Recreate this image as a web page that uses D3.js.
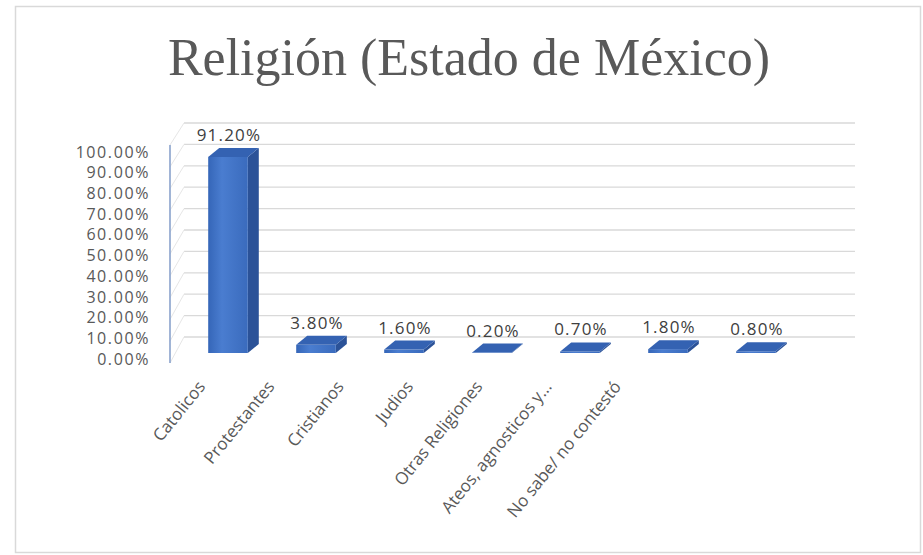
<!DOCTYPE html>
<html>
<head>
<meta charset="utf-8">
<script src="https://cdn.jsdelivr.net/npm/d3@7"></script>
<style>
  html, body { margin: 0; padding: 0; background: #ffffff; }
  svg { display: block; }
</style>
</head>
<body>
<svg id="chart" width="923" height="555"></svg>
<script>
// ---- data ----
const title = "Religión (Estado de México)";
const categories = ["Catolicos", "Protestantes", "Cristianos", "Judios", "Otras Religiones", "Ateos, agnosticos y...", "No sabe/ no contestó"];
const values = [0.912, 0.038, 0.016, 0.002, 0.007, 0.018, 0.008];
const tickValues = [0, 0.1, 0.2, 0.3, 0.4, 0.5, 0.6, 0.7, 0.8, 0.9, 1.0];

const svg = d3.select("#chart");
const font = "'Open Sans', 'Liberation Sans', sans-serif";
const textColor = "#595959";

// outer border
svg.append("rect").attr("x", 15.5).attr("y", 6.5).attr("width", 905).attr("height", 546)
  .attr("fill", "#ffffff").attr("stroke", "#d9d9d9").attr("stroke-width", 1.5);

// title
svg.append("text").attr("x", 469).attr("y", 75).attr("text-anchor", "middle")
  .attr("font-family", "'Liberation Serif', 'DejaVu Serif', serif")
  .attr("font-size", 52).attr("fill", textColor).text(title);

// scales
const yBack = d3.scaleLinear().domain([0, 1]).range([337, 123]);   // back wall
const yWall = d3.scaleLinear().domain([0, 1]).range([363, 145]);   // front edge of side wall
const yLab  = d3.scaleLinear().domain([0, 1]).range([359, 152]);   // tick labels
const yBar  = d3.scaleLinear().domain([0, 1]).range([353, 138]);   // bars (front face)
const x = d3.scaleBand().domain(categories).range([184, 800]).paddingInner(0.55).paddingOuter(0.275);
const xLab = d3.scalePoint().domain(categories).range([206, 622]);
const wallX0 = 170, wallX1 = 184, backX1 = 855;
const dx = 11, dy = -9;

// back wall gridlines
svg.append("g").selectAll("line").data(tickValues).join("line")
  .attr("x1", wallX1).attr("x2", backX1)
  .attr("y1", d => yBack(d)).attr("y2", d => yBack(d))
  .attr("stroke", "#d9d9d9").attr("stroke-width", 1.3);

// side wall gridlines
svg.append("g").selectAll("line").data(tickValues).join("line")
  .attr("x1", wallX0).attr("x2", wallX1)
  .attr("y1", d => yWall(d)).attr("y2", d => yBack(d))
  .attr("stroke", "#e6e6e6").attr("stroke-width", 1);

// side wall front edge (axis line)
svg.append("line").attr("x1", wallX0).attr("x2", wallX0)
  .attr("y1", yWall(1)).attr("y2", yWall(0))
  .attr("stroke", "#8aa2cc").attr("stroke-width", 1.6);

// y axis labels
const yAxis = d3.axisLeft(yLab).tickValues(tickValues).tickFormat(d3.format(".2%")).tickSize(0).tickPadding(0);
const gy = svg.append("g").attr("transform", "translate(150,0)").call(yAxis);
gy.select(".domain").remove();
gy.selectAll("text").attr("font-family", font).attr("font-size", 16).attr("letter-spacing", 1.6).attr("fill", textColor);

// gradients
const defs = svg.append("defs");
const gFront = defs.append("linearGradient").attr("id", "gFront").attr("x1", 0).attr("x2", 1).attr("y1", 0).attr("y2", 0);
gFront.append("stop").attr("offset", "0%").attr("stop-color", "#3566b8");
gFront.append("stop").attr("offset", "35%").attr("stop-color", "#4a7dd0");
gFront.append("stop").attr("offset", "100%").attr("stop-color", "#3a6bbd");

// bars
const bars = svg.append("g").selectAll("g").data(categories).join("g");
bars.each(function(c, i) {
  const g = d3.select(this);
  const x0 = x(c), w = x.bandwidth();
  const yT = yBar(values[i]), yB = yBar(0);
  // side face
  g.append("polygon")
    .attr("points", [[x0 + w, yT], [x0 + w + dx, yT + dy], [x0 + w + dx, yB + dy], [x0 + w, yB]].join(" "))
    .attr("fill", "#2b5298");
  // front face
  g.append("rect").attr("x", x0).attr("y", yT).attr("width", w).attr("height", yB - yT)
    .attr("fill", "url(#gFront)");
  // top face
  g.append("polygon")
    .attr("points", [[x0, yT], [x0 + dx, yT + dy], [x0 + w + dx, yT + dy], [x0 + w, yT]].join(" "))
    .attr("fill", "#3462b2");
  // value label
  g.append("text").attr("x", x0 + w / 2 + 1).attr("y", yT - 16).attr("text-anchor", "middle")
    .attr("font-family", font).attr("font-size", 17).attr("letter-spacing", 1.2).attr("fill", "#404040")
    .text(d3.format(".2%")(values[i]));
});

// category labels
svg.append("g").selectAll("text").data(categories).join("text")
  .attr("transform", d => `translate(${xLab(d)},387) rotate(-51)`)
  .attr("text-anchor", "end")
  .attr("font-family", font).attr("font-size", 17).attr("fill", textColor)
  .text(d => d);
</script>
</body>
</html>
